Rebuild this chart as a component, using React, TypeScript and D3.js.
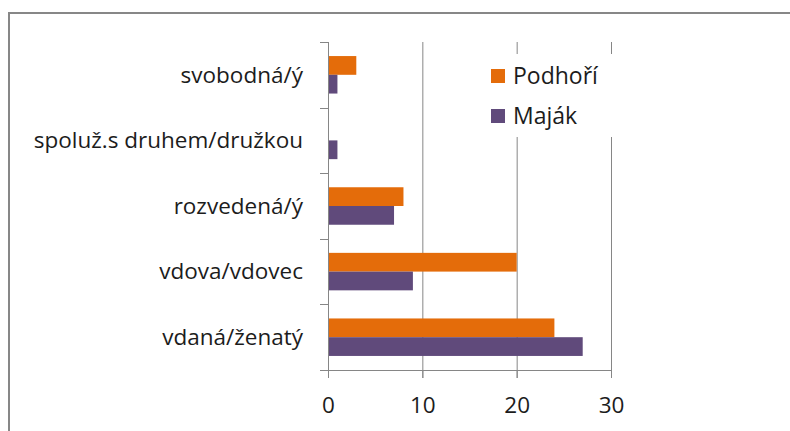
import React, { useEffect, useRef } from "react";
import * as d3 from "d3";

const categories = ["svobodná/ý", "spoluž.s druhem/družkou", "rozvedená/ý", "vdova/vdovec", "vdaná/ženatý"];
const seriesNames = ["Podhoří", "Maják"];
const podhori = [3, 0, 8, 20, 24];
const majak = [1, 1, 7, 9, 27];
const xTicks = [0, 10, 20, 30];
const colors = ["#E46C0A", "#604A7B"];

const FONT = "'Open Sans', sans-serif";
const TEXT = "#1c1c1c";

export default function App() {
  const ref = useRef<SVGSVGElement>(null);
  useEffect(() => {
    const svg = d3.select(ref.current);
    svg.selectAll("*").remove();
    const gray = "#868686";

    // frame
    svg.append("rect").attr("x", 9).attr("y", 13).attr("width", 900).attr("height", 600)
      .attr("fill", "#fff").attr("stroke", "#878787").attr("stroke-width", 2);

    const x = d3.scaleLinear().domain([0, 30]).range([328, 611]);
    const y = d3.scaleBand<string>().domain(categories).range([42, 370]).padding(0);
    const inner = d3.scaleBand<string>().domain(seriesNames).range([0, y.bandwidth()])
      .paddingInner(0).paddingOuter(0.75);

    // gridlines
    svg.append("g").selectAll("line").data(xTicks.slice(1)).join("line")
      .attr("x1", d => x(d) + 0.5).attr("x2", d => x(d) + 0.5)
      .attr("y1", 42).attr("y2", 378).attr("stroke", gray).attr("stroke-width", 1);

    // bars
    const data = [podhori, majak];
    data.forEach((vals, si) => {
      svg.append("g").selectAll("rect").data(vals).join("rect")
        .attr("x", x(0))
        .attr("y", (_, i) => (y(categories[i]) as number) + (inner(seriesNames[si]) as number))
        .attr("width", d => x(d) - x(0))
        .attr("height", inner.bandwidth())
        .attr("fill", colors[si]);
    });

    // axes
    const ax = svg.append("g");
    ax.append("line").attr("x1", x(0) + 0.5).attr("x2", x(0) + 0.5).attr("y1", 42).attr("y2", 378)
      .attr("stroke", gray);
    ax.append("line").attr("x1", 320).attr("x2", x(30) + 1).attr("y1", 370.5).attr("y2", 370.5)
      .attr("stroke", gray);
    const bounds = categories.map(c => y(c) as number).concat([370]);
    ax.selectAll("line.yt").data(bounds).join("line").attr("class", "yt")
      .attr("x1", 320).attr("x2", x(0)).attr("y1", d => Math.round(d) + 0.5).attr("y2", d => Math.round(d) + 0.5)
      .attr("stroke", gray);
    ax.selectAll("line.xt").data(xTicks).join("line").attr("class", "xt")
      .attr("x1", d => x(d) + 0.5).attr("x2", d => x(d) + 0.5).attr("y1", 370).attr("y2", 378)
      .attr("stroke", gray);

    // tick labels
    svg.append("g").selectAll("text").data(xTicks).join("text")
      .attr("x", d => x(d) + 0.5).attr("y", 413).attr("text-anchor", "middle")
      .attr("font-family", FONT).attr("font-size", 22.5).attr("fill", TEXT)
      .text(d => d);
    svg.append("g").selectAll("text").data(categories).join("text")
      .attr("x", 303).attr("y", d => (y(d) as number) + y.bandwidth() / 2).attr("dy", "0.35em")
      .attr("text-anchor", "end")
      .attr("font-family", FONT).attr("font-size", 22.5).attr("fill", TEXT)
      .text(d => d);

    // legend
    const lg = svg.append("g");
    lg.append("rect").attr("x", 476).attr("y", 54).attr("width", 150).attr("height", 83).attr("fill", "#fff");
    seriesNames.forEach((s, i) => {
      const cy = 76 + i * 40;
      lg.append("rect").attr("x", 491).attr("y", cy - 7).attr("width", 14).attr("height", 14)
        .attr("fill", colors[i]);
      lg.append("text").attr("x", 513).attr("y", cy).attr("dy", "0.35em")
        .attr("font-family", FONT).attr("font-size", 23).attr("fill", TEXT).text(s);
    });
  }, []);
  return (
    <svg ref={ref} width={790} height={431}
      style={{ position: "absolute", left: 0, top: 0, background: "#fff" }} />
  );
}
